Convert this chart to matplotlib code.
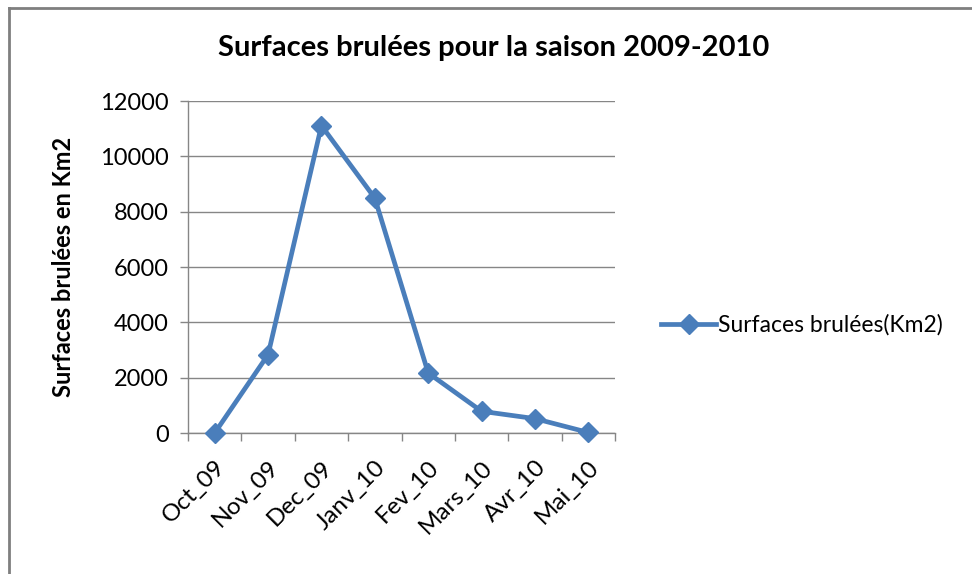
import matplotlib
matplotlib.use("Agg")
import matplotlib.pyplot as plt
from matplotlib.lines import Line2D

months = ["Oct_09", "Nov_09", "Dec_09", "Janv_10", "Fev_10", "Mars_10", "Avr_10", "Mai_10"]
surfaces = [0, 2830, 11110, 8490, 2170, 785, 520, 20]
yticks = [0, 2000, 4000, 6000, 8000, 10000, 12000]

plt.rcParams['font.family'] = ['Lato', 'DejaVu Sans']

fig = plt.figure(figsize=(9.72, 5.74), dpi=100)
ax = fig.add_axes([188/972, 1-433/574, (615-188)/972, (433-101)/574])

color = "#4A7EBB"
x = list(range(len(months)))
ax.plot(x, surfaces, color=color, lw=3.4, marker="D", markersize=10,
        markerfacecolor=color, markeredgecolor=color, label="Surfaces brulées(Km2)",
        solid_joinstyle="miter", clip_on=False, zorder=3)

ax.set_xlim(-0.5, len(months) - 0.5)
ax.set_ylim(0, 12000)
ax.set_yticks(yticks)
ax.set_yticklabels([str(v) for v in yticks])
ax.yaxis.grid(True, color="#868686", lw=1)
ax.set_axisbelow(True)

ax.set_xticks([i + 0.5 for i in range(-1, len(months))], minor=False)
ax.set_xticklabels([""] * (len(months) + 1))
ax.set_xticks(x, minor=True)
ax.set_xticklabels(months, minor=True, rotation=45, ha="right", rotation_mode="anchor", fontsize=17.5)
ax.tick_params(axis="x", which="minor", length=0, pad=17)
ax.tick_params(axis="x", which="major", length=6, color="#868686", width=1)
ax.tick_params(axis="y", length=6, color="#868686", width=1, labelsize=17, pad=8)

for s in ["top", "right"]:
    ax.spines[s].set_visible(False)
for s in ["left", "bottom"]:
    ax.spines[s].set_color("#868686")
    ax.spines[s].set_linewidth(1)

ax.set_ylabel("Surfaces brulées en Km2", fontsize=17, fontweight="bold", labelpad=18)

fig.text(494/972, 1 - 48/574, "Surfaces brulées pour la saison 2009-2010",
         fontsize=21, fontweight="bold", ha="center", va="center")

handle = Line2D([], [], color=color, lw=3.4, marker="D", markersize=10)
fig.legend([handle], ["Surfaces brulées(Km2)"], loc="center left",
           bbox_to_anchor=(652/972, 1 - 325/574), frameon=False, fontsize=16.5,
           handlelength=2.4, handletextpad=0.1, borderaxespad=0)

# outer chart border (top and left visible)
fig.add_artist(Line2D([9/972, 9/972], [0, 1 - 8/574], transform=fig.transFigure, color="#7F7F7F", lw=2))
fig.add_artist(Line2D([9/972, 1], [1 - 8/574, 1 - 8/574], transform=fig.transFigure, color="#7F7F7F", lw=2))

fig.savefig("out.png", dpi=100)
